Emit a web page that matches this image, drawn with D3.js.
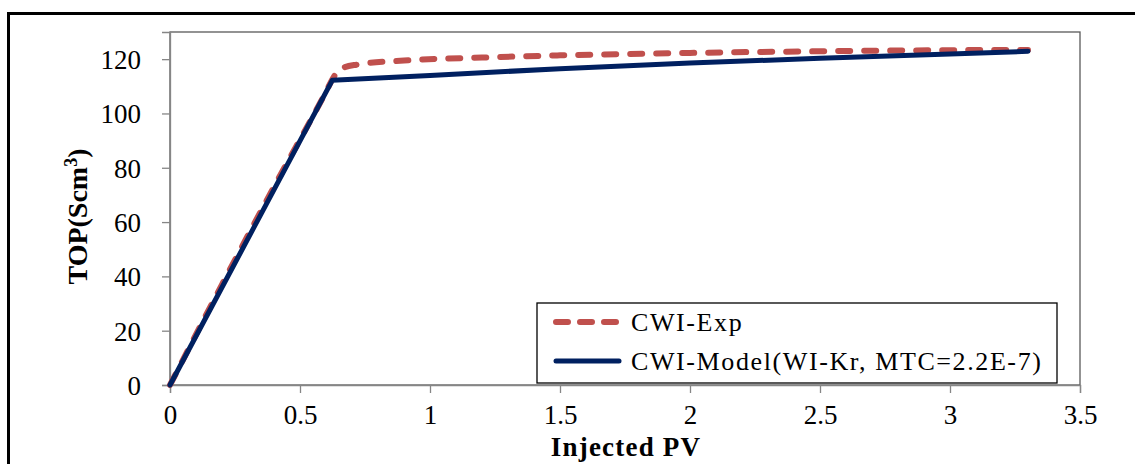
<!DOCTYPE html>
<html>
<head>
<meta charset="utf-8">
<script src="https://cdn.jsdelivr.net/npm/d3@7"></script>
<style>
  body { margin: 0; background: #fff; }
  text { font-family: "Liberation Serif", "Times New Roman", serif; fill: #000; }
</style>
</head>
<body>
<svg width="1135" height="464"></svg>
<script>
const pvExp = [0, 0.2, 0.4, 0.6, 0.63, 0.66, 0.72, 0.9, 1.2, 1.5, 2, 2.5, 3, 3.3];
const topExp = [0, 37, 73, 108, 113.5, 116.6, 118, 119.5, 120.6, 121.4, 122.3, 122.9, 123.3, 123.4];
const pvModel = [0, 0.624, 1, 1.5, 2, 2.5, 3, 3.3];
const topModel = [0, 112.2, 114, 116.5, 118.6, 120.3, 121.9, 122.9];
const xTicks = [0, 0.5, 1, 1.5, 2, 2.5, 3, 3.5];
const yTicks = [0, 20, 40, 60, 80, 100, 120];
const seriesNames = ["CWI-Exp", "CWI-Model(WI-Kr, MTC=2.2E-7)"];

const svg = d3.select("svg"),
  margin = { top: 32, right: 55, bottom: 79, left: 170 },
  width = +svg.attr("width") - margin.left - margin.right,
  height = +svg.attr("height") - margin.top - margin.bottom,
  x = d3.scaleLinear().domain([0, 3.5]).range([0, width]),
  y = d3.scaleLinear().domain([0, 130]).range([height, 0]);

// outer frame
svg.append("rect")
  .attr("x", 8.5).attr("y", 13.5)
  .attr("width", 1160).attr("height", 500)
  .attr("fill", "none").attr("stroke", "#000").attr("stroke-width", 3);

const g = svg.append("g").attr("transform", `translate(${margin.left},${margin.top})`);

// plot frame
g.append("rect")
  .attr("x", 0).attr("y", 0).attr("width", width).attr("height", height)
  .attr("fill", "none").attr("stroke", "#595959").attr("stroke-width", 1.3);

const xAxis = g.append("g")
  .attr("transform", `translate(0,${height})`)
  .call(d3.axisBottom(x).tickValues(xTicks).tickSize(8).tickPadding(12).tickFormat(d3.format("")));
const yAxis = g.append("g")
  .call(d3.axisLeft(y).tickValues(yTicks).tickSize(8).tickPadding(21));

[xAxis, yAxis].forEach((a) => {
  a.select(".domain").attr("stroke", "#868686").attr("stroke-width", 1.3);
  a.selectAll(".tick line").attr("stroke", "#868686").attr("stroke-width", 1.3);
  a.selectAll(".tick text")
    .style("font-family", "'Liberation Serif', serif")
    .style("font-size", "27px").attr("fill", "#000");
});
yAxis.selectAll(".tick text").attr("dy", "0.35em");

// lines
const lineExp = d3.line().x((d, i) => x(pvExp[i])).y((d) => y(d)).curve(d3.curveMonotoneX);
const lineModel = d3.line().x((d, i) => x(pvModel[i])).y((d) => y(d));

g.append("path")
  .attr("d", lineExp(topExp))
  .attr("fill", "none").attr("stroke", "#C0504D").attr("stroke-width", 6)
  .attr("stroke-dasharray", "12,14").attr("stroke-linecap", "round");

g.append("path")
  .attr("d", lineModel(topModel))
  .attr("fill", "none").attr("stroke", "#002060").attr("stroke-width", 5)
  .attr("stroke-linecap", "round").attr("stroke-linejoin", "round");

// legend
const leg = svg.append("g").attr("transform", "translate(537,303)");
leg.append("rect").attr("width", 520).attr("height", 80)
  .attr("fill", "#fff").attr("stroke", "#000").attr("stroke-width", 1.3);
const legStyles = [
  { color: "#C0504D", width: 6, dash: "12,12" },
  { color: "#002060", width: 5, dash: null }
];
seriesNames.forEach((name, i) => {
  const cy = 19 + i * 39;
  leg.append("line")
    .attr("x1", 19).attr("x2", 82).attr("y1", cy).attr("y2", cy)
    .attr("stroke", legStyles[i].color).attr("stroke-width", legStyles[i].width)
    .attr("stroke-dasharray", legStyles[i].dash).attr("stroke-linecap", "round");
  leg.append("text")
    .attr("x", 94).attr("y", cy + 9)
    .style("font-size", "26px").style("letter-spacing", "1.6px")
    .text(name);
});

// axis titles
svg.append("text")
  .attr("x", 626).attr("y", 456)
  .attr("text-anchor", "middle")
  .style("font-size", "27px").style("font-weight", "bold").style("letter-spacing", "1.2px")
  .text("Injected PV");

const yt = svg.append("text")
  .attr("transform", `translate(87,${margin.top + height / 2 + 8}) rotate(-90)`)
  .attr("text-anchor", "middle")
  .style("font-size", "28px").style("font-weight", "bold");
yt.append("tspan").text("TOP(Scm");
yt.append("tspan").attr("dy", -10).style("font-size", "18px").text("3");
yt.append("tspan").attr("dy", 10).text(")");
</script>
</body>
</html>
